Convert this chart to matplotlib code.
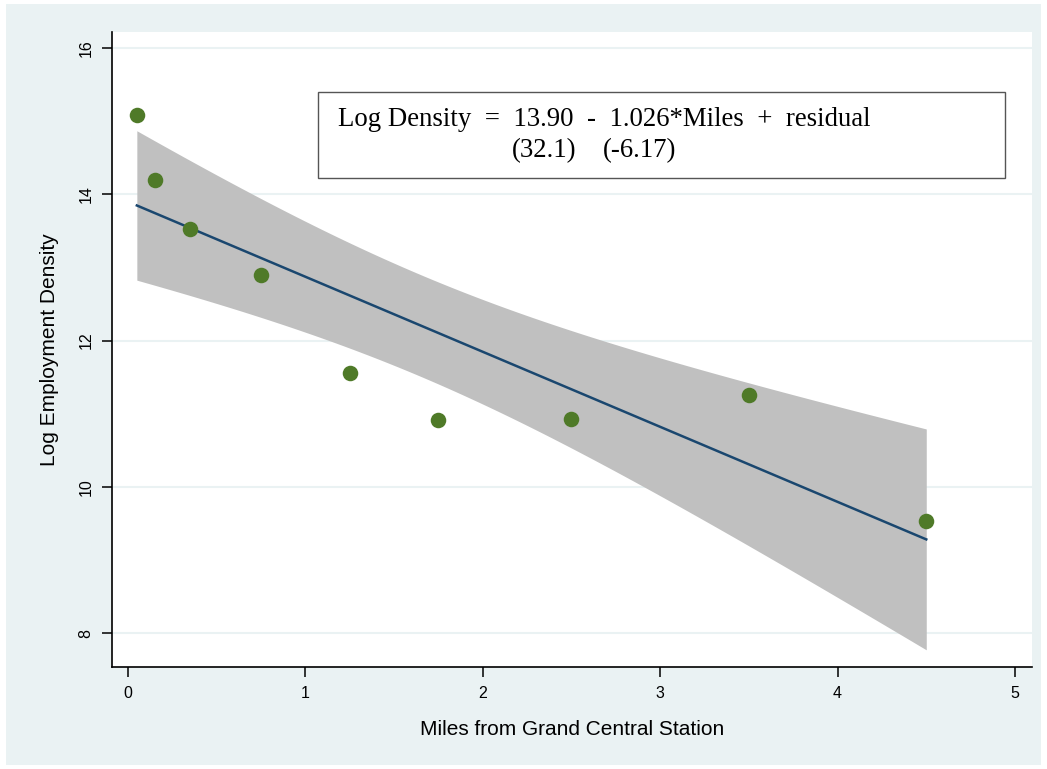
import numpy as np
import matplotlib.pyplot as plt
from matplotlib.patches import Rectangle

# miles from Grand Central and log employment density
miles = [0.05, 0.15, 0.35, 0.75, 1.25, 1.75, 2.5, 3.5, 4.5]
log_density = [15.08, 14.20, 13.53, 12.90, 11.56, 10.91, 10.93, 11.26, 9.53]

x_ticks = [0, 1, 2, 3, 4, 5]
y_ticks = [8, 10, 12, 14, 16]

eq_line1 = "Log Density  =  13.90  -  1.026*Miles  +  residual"
t_stats = ["(32.1)", "(-6.17)"]

bg = "#eaf2f3"
green = "#4f7a28"
navy = "#1a476f"

#fit and 95% CI of the mean
x = np.array(miles)
y = np.array(log_density)
n = len(x)
slope, intercept = np.polyfit(x, y, 1)
resid = y - (intercept + slope * x)
s = np.sqrt(np.sum(resid ** 2) / (n - 2))
sxx = np.sum((x - x.mean()) ** 2)
t_crit = 2.3646  # t(0.975, 7)
xs = np.linspace(x.min(), x.max(), 100)
fit = intercept + slope * xs
half = t_crit * s * np.sqrt(1 / n + (xs - x.mean()) ** 2 / sxx)

fig = plt.figure(figsize=(10.47, 7.69), dpi=100)
fig.patches.append(Rectangle((6 / 1047, 4 / 769), 1035 / 1047, 761 / 769,
                             transform=fig.transFigure, facecolor=bg,
                             edgecolor="none", zorder=-10))

ax = fig.add_axes([112 / 1047, 1 - 667 / 769, 920 / 1047, 635 / 769])
ax.set_facecolor("white")

ax.fill_between(xs, fit - half, fit + half, color="#c0c0c0", lw=0, zorder=2)
ax.plot(xs, fit, color=navy, lw=1.8, zorder=3)
ax.scatter(x, y, s=125, color=green, zorder=4, lw=0)

ax.set_xlim(-0.09, 5.096)
ax.set_ylim(7.535, 16.22)
ax.set_xticks(x_ticks)
ax.set_yticks(y_ticks)
ax.set_xticklabels([str(v) for v in x_ticks], fontsize=11.5, family="Liberation Sans")
ax.set_yticklabels([str(v) for v in y_ticks], fontsize=11.5, family="Liberation Sans",
                   rotation=90, va="center")
ax.tick_params(direction="out", length=7.5, width=1.1, pad=6)

ax.spines['right'].set_visible(False)
ax.spines['top'].set_visible(False)
ax.spines['left'].set_linewidth(1.2)
ax.spines['bottom'].set_linewidth(1.2)
ax.grid(axis='y', color=bg, lw=1.5, zorder=1)
ax.set_axisbelow(True)

ax.set_xlabel("Miles from Grand Central Station", fontsize=15,
              family="Liberation Sans", labelpad=14)
ax.set_ylabel("Log Employment Density", fontsize=15,
              family="Liberation Sans", labelpad=14)

#equation box
fig.patches.append(Rectangle((318 / 1047, 1 - 178 / 769), 687 / 1047, 86 / 769,
                             transform=fig.transFigure, facecolor="white",
                             edgecolor="#555555", lw=1, zorder=5))
fig.text(338 / 1047, 1 - 126 / 769, eq_line1, fontsize=19.3,
         family="Liberation Serif", zorder=6)
fig.text(512 / 1047, 1 - 157 / 769, t_stats[0], fontsize=19.3,
         family="Liberation Serif", zorder=6)
fig.text(603 / 1047, 1 - 157 / 769, t_stats[1], fontsize=19.3,
         family="Liberation Serif", zorder=6)

plt.savefig("out.png", dpi=100)
